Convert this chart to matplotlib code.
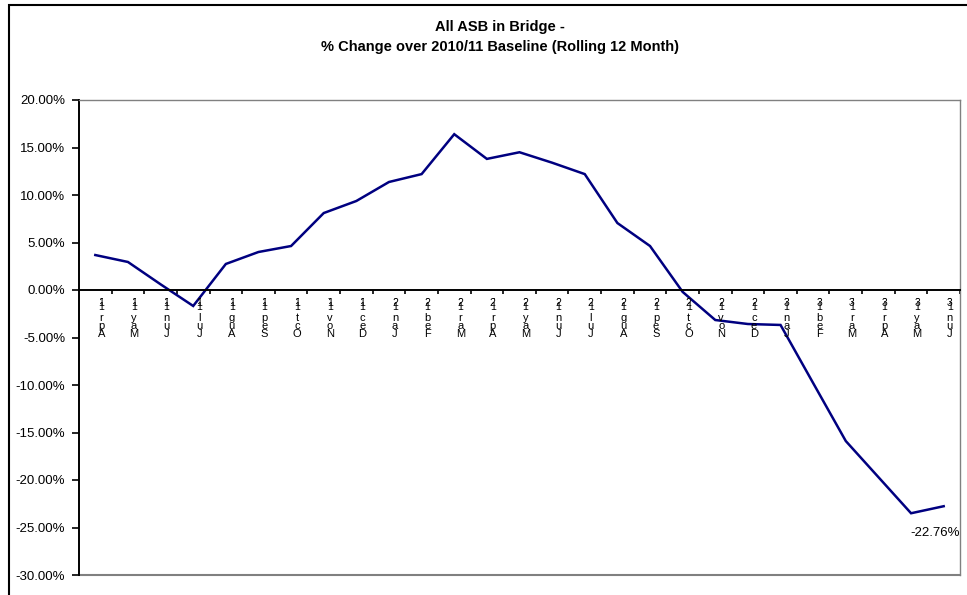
import matplotlib
matplotlib.use("Agg")
import matplotlib.pyplot as plt
from matplotlib.patches import Rectangle
from matplotlib.ticker import FixedLocator, FuncFormatter

plt.rcParams['font.family'] = ['Liberation Sans', 'DejaVu Sans']

months = ["Apr-11", "May-11", "Jun-11", "Jul-11", "Aug-11", "Sep-11", "Oct-11",
          "Nov-11", "Dec-11", "Jan-12", "Feb-12", "Mar-12", "Apr-12", "May-12",
          "Jun-12", "Jul-12", "Aug-12", "Sep-12", "Oct-12", "Nov-12", "Dec-12",
          "Jan-13", "Feb-13", "Mar-13", "Apr-13", "May-13", "Jun-13"]
pct_change = [3.68, 2.95, 0.60, -1.68, 2.74, 4.00, 4.63,
              8.10, 9.37, 11.37, 12.20, 16.40, 13.80, 14.50,
              13.40, 12.20, 7.05, 4.63, -0.20, -3.16, -3.58,
              -3.68, -9.80, -15.90, -19.70, -23.50, -22.76]
y_ticks = [-30, -25, -20, -15, -10, -5, 0, 5, 10, 15, 20]

W, H = 967, 595
fig = plt.figure(figsize=(W / 100, H / 100), dpi=100)

# outer chart border (cropped at right and bottom like the original)
fig.patches.append(Rectangle((9 / W, -0.02), 1.0, 1 - 5 / H + 0.02,
                             transform=fig.transFigure, fill=False,
                             edgecolor='black', linewidth=1.5))

ax = fig.add_axes([79 / W, 1 - 575 / H, (960 - 79) / W, (575 - 100) / H])

x = list(range(len(months)))
ax.plot(x, pct_change, color='#000080', linewidth=1.8, solid_joinstyle='miter')

ax.set_xlim(-0.5, len(months) - 0.5)
ax.set_ylim(-30, 20)
ax.yaxis.set_major_locator(FixedLocator(y_ticks))
ax.yaxis.set_major_formatter(FuncFormatter(lambda v, p: f"{v:.2f}%"))
ax.tick_params(axis='y', direction='out', length=5, width=1.2, labelsize=9.5, pad=5)

# x axis crosses at zero, ticks at category boundaries
ax.spines['bottom'].set_position(('data', 0))
ax.spines['bottom'].set_linewidth(1.4)
ax.spines['left'].set_linewidth(1.4)
for s in ('top', 'right'):
    ax.spines[s].set_color('#808080')
    ax.spines[s].set_linewidth(1)
ax.axhline(-30, color='#808080', linewidth=1.5, clip_on=False)
ax.xaxis.set_major_locator(FixedLocator([i + 0.5 for i in x]))
ax.tick_params(axis='x', direction='out', length=3, width=1.2, labelbottom=False)

# stacked (vertical) category labels: squeezed year part, then the month
year_texts = []
for i, m in enumerate(months):
    mon, yr = m.split('-')
    t = ax.annotate('\n'.join(reversed(yr + '-')), (i, 0), xytext=(6, -3),
                    textcoords='offset pixels', ha='center', va='top',
                    fontsize=7.5, linespacing=0.32)
    year_texts.append((t, i, mon))

fig.canvas.draw()
renderer = fig.canvas.get_renderer()
for t, i, mon in year_texts:
    bb = t.get_window_extent(renderer)
    y0 = ax.transData.transform((i, 0))[1]
    ax.annotate('\n'.join(reversed(mon)), (i, 0), xytext=(6, bb.y0 - y0 - 1),
                textcoords='offset pixels', ha='center', va='top',
                fontsize=8, linespacing=0.72)

# data label on last point
ax.annotate(f"{pct_change[-1]:.2f}%", (x[-1], pct_change[-1]), xytext=(-9, -27),
            textcoords='offset pixels', ha='center', va='center', fontsize=9.5)

fig.text(500 / W, 1 - 37 / H,
         "All ASB in Bridge -\n% Change over 2010/11 Baseline (Rolling 12 Month)",
         ha='center', va='center', fontsize=10.5, fontweight='bold', linespacing=1.5)

fig.savefig("out.png", dpi=100)
